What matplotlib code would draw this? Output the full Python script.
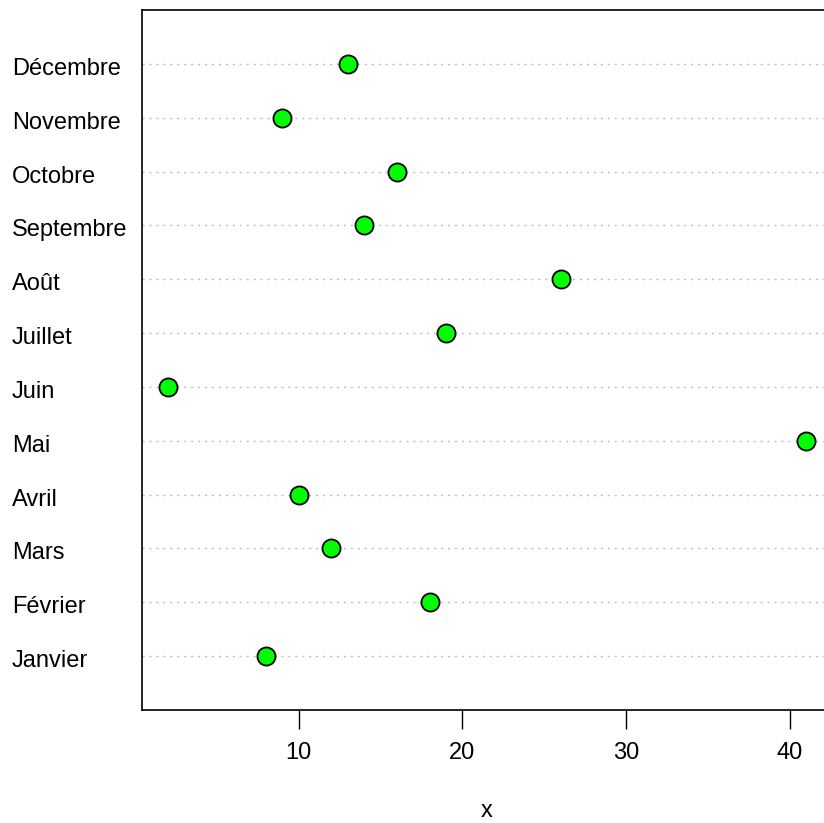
import numpy as np
import matplotlib
matplotlib.use('Agg')
from matplotlib import pyplot as plt

plt.rcParams['font.family'] = ['Liberation Sans', 'DejaVu Sans']

months = ['Janvier', 'Février', 'Mars', 'Avril', 'Mai', 'Juin',
          'Juillet', 'Août', 'Septembre', 'Octobre', 'Novembre', 'Décembre']
values = [8, 18, 12, 10, 41, 2, 19, 26, 14, 16, 9, 13]
xticks = [10, 20, 30, 40]

W, H = 824, 823
fig = plt.figure(figsize=(W / 100, H / 100), dpi=100)
ax = fig.add_axes([142 / W, 1 - 710 / H, (831.7 - 142) / W, 700 / H])

pos = np.arange(1, len(months) + 1)
for p in pos:
    ax.axhline(p, color='#bebebe', lw=1.0, ls=(0, (1.5, 3.5)), zorder=1)
ax.scatter(values, pos, s=170, facecolor='#00ff00', edgecolor='black',
           linewidth=1.3, zorder=3)

ax.set_xlim(0.44, 42.56)
ax.set_ylim(0, 13)
ax.set_yticks([])
ax.set_xticks(xticks)
ax.set_xticklabels([str(t) for t in xticks], fontsize=17)
ax.tick_params(axis='x', length=14, width=1, pad=9, color='black')
for s in ax.spines.values():
    s.set_linewidth(1.2)

for p, m in zip(pos, months):
    ypix = ax.transData.transform((0, p))[1] - 5
    ax.text(12 / W, ypix / H, m,
            transform=fig.transFigure, ha='left', va='center', fontsize=17)

ax.set_xlabel('x', fontsize=17, labelpad=26)

fig.savefig('out.png', dpi=100)
